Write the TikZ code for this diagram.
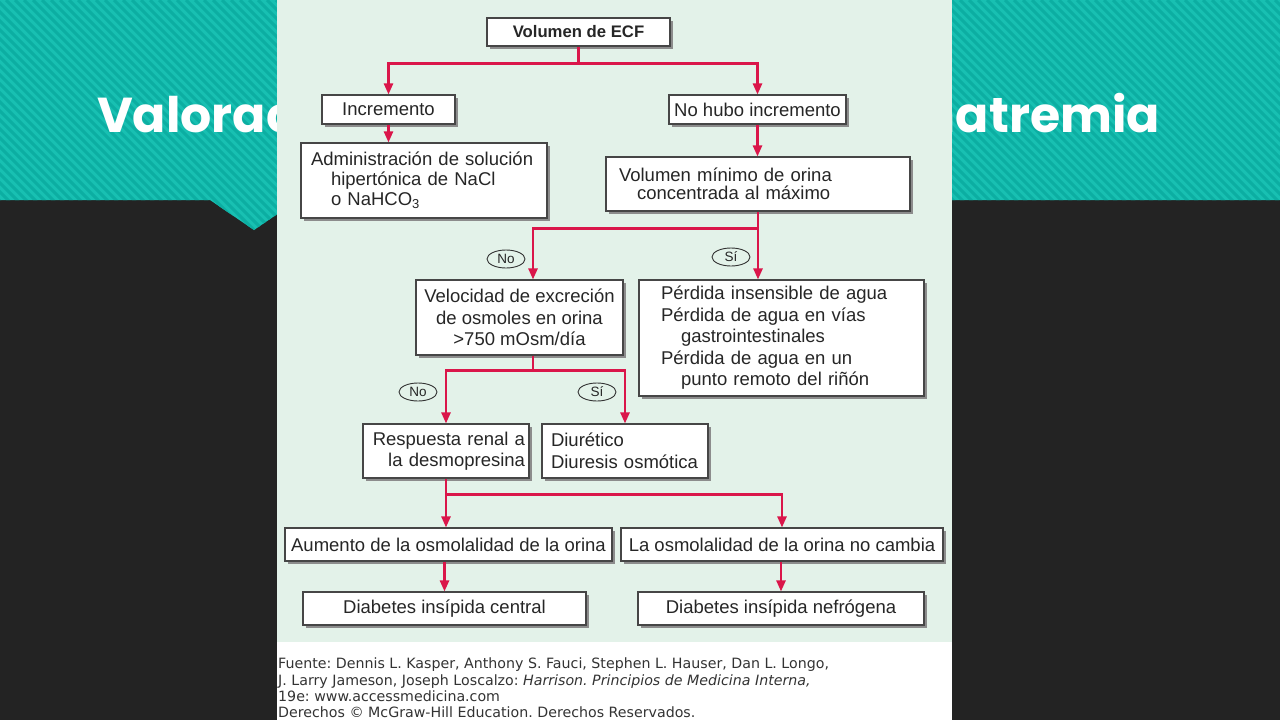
\documentclass[tikz,border=0pt]{standalone}
\usepackage{fontspec}
\setmainfont{Liberation Sans}
\newfontfamily\srcfont{DejaVu Sans}
\newfontfamily\titlefont{Poppins}
\usepackage{tikz}
\usetikzlibrary{shapes,arrows.meta,positioning,shadows}
\definecolor{teal1}{RGB}{24,192,178}
\definecolor{teal2}{RGB}{12,174,162}
\definecolor{slide}{RGB}{35,35,35}
\definecolor{mint}{RGB}{227,242,233}
\definecolor{rojo}{RGB}{218,22,74}
\definecolor{borde}{RGB}{70,70,70}

\begin{document}
\begin{tikzpicture}[x=1pt,y=-1pt,
  caja/.style={draw=borde,line width=1.1pt,fill=white,
    drop shadow={shadow xshift=2.5pt,shadow yshift=-2.5pt,fill=black!45,opacity=1},
    inner sep=0pt,font=\fontsize{18.5}{21.5}\selectfont,text=black!85},
  flecha/.style={draw=rojo,line width=2.4pt,-{Triangle[length=11pt,width=9pt]}},
  etiqueta/.style={ellipse,draw=black!80,line width=0.9pt,minimum width=38pt,
    minimum height=18pt,inner sep=0pt,font=\fontsize{13.5}{13.5}\selectfont,text=black!85},
  titulo/.style={font=\titlefont\bfseries\fontsize{49}{49}\selectfont,text=white,inner sep=0pt}]
\useasboundingbox (0,0) rectangle (1280,720);

% fondo de la diapositiva
\fill[slide] (0,0) rectangle (1280,720);
\fill[teal1] (0,0) -- (1280,0) -- (1280,200) -- (298,200) -- (254,230) -- (210,200) -- (0,200) -- cycle;
\begin{scope}
\clip (0,0) -- (1280,0) -- (1280,200) -- (298,200) -- (254,230) -- (210,200) -- (0,200) -- cycle;
\foreach \i in {-300,-291,...,1300}
  \draw[teal2,line width=3pt] (\i,0) -- ++(240,240);
\end{scope}
\node[titulo,anchor=base west] (tit1) at (97,132) {Valorac};
\node[titulo,anchor=base east] (tit2) at (1160,132) {natremia};

% figura
\fill[white] (277,0) rectangle (952,720);
\fill[mint] (277,0) rectangle (952,642);

\node[caja,minimum width=183pt,minimum height=28pt,font=\bfseries\fontsize{16.7}{20}\selectfont]
  (ecf) at (578.5,32) {Volumen de ECF};
\node[caja,minimum width=133pt,minimum height=29pt] (inc) at (388.5,109.5) {Incremento};
\node[caja,minimum width=177pt,minimum height=29pt] (nohubo) at (757.5,109.5) {No hubo incremento};
\node[caja,minimum width=246pt,minimum height=75pt,text width=226pt,align=left,
  font=\fontsize{18.5}{20}\selectfont] (admin) at (424,180.5)
  {Administración de solución\\\hspace*{20pt}hipertónica de NaCl\\\hspace*{20pt}o NaHCO\textsubscript{3}};
\node[caja,minimum width=304pt,minimum height=54pt,text width=278pt,align=left,
  font=\fontsize{18.5}{18}\selectfont] (vmin) at (758,184)
  {Volumen mínimo de orina\\\hspace*{18pt}concentrada al máximo};
\node[caja,minimum width=207pt,minimum height=75pt,align=center] (vel) at (519.5,317.5)
  {Velocidad de excreción\\de osmoles en orina\\>750 mOsm/día};
\node[caja,minimum width=285pt,minimum height=116pt,text width=241pt,align=left] (perd) at (781.5,338)
  {Pérdida insensible de agua\\Pérdida de agua en vías\\\hspace*{20pt}gastrointestinales\\
   Pérdida de agua en un\\\hspace*{20pt}punto remoto del riñón};
\node[caja,minimum width=166pt,minimum height=54pt,text width=158pt,align=right] (resp) at (446,451)
  {Respuesta renal a\\la desmopresina};
\node[caja,minimum width=166pt,minimum height=54pt,text width=148pt,align=left] (diur) at (625,451)
  {Diurético\\Diuresis osmótica};
\node[caja,minimum width=327pt,minimum height=33pt] (aum) at (448.5,544.5)
  {Aumento de la osmolalidad de la orina};
\node[caja,minimum width=322pt,minimum height=33pt] (osm) at (782,544.5)
  {La osmolalidad de la orina no cambia};
\node[caja,minimum width=283pt,minimum height=33pt] (cen) at (444.5,608.5)
  {Diabetes insípida central};
\node[caja,minimum width=286pt,minimum height=33pt] (nef) at (781,608.5)
  {Diabetes insípida nefrógena};

\node[etiqueta] (no1) at (506,259) {No};
\node[etiqueta] (si1) at (731,257) {Sí};
\node[etiqueta] (no2) at (418,392) {No};
\node[etiqueta] (si2) at (597,392) {Sí};

% conectores
\draw[flecha] (ecf.south) -- ++(0,17) -| (inc.north);
\draw[flecha] (ecf.south) -- ++(0,17) -| (nohubo.north);
\draw[flecha] (inc.south) -- (inc.south |- admin.north);
\draw[flecha] (nohubo.south) -- (nohubo.south |- vmin.north);
\draw[flecha] (vmin.south) -- ++(0,17) -| ([xshift=13.5pt]vel.north);
\draw[flecha] (vmin.south) -- (vmin.south |- perd.north);
\draw[flecha] ([xshift=13.5pt]vel.south) -- ++(0,15) -| (resp.north);
\draw[flecha] ([xshift=13.5pt]vel.south) -- ++(0,15) -| (diur.north);
\draw[flecha] (resp.south) -- (resp.south |- aum.north);
\draw[flecha] (resp.south) -- ++(0,16) -| (osm.north);
\draw[flecha] (cen.north |- aum.south) -- (cen.north);
\draw[flecha] (nef.north |- osm.south) -- (nef.north);

% fuente
\node[anchor=north west,align=left,inner sep=0pt,text=black!80,
  font=\srcfont\fontsize{14.2}{16.2}\selectfont\frenchspacing] (fuente) at (278,658)
  {Fuente: Dennis L. Kasper, Anthony S. Fauci, Stephen L. Hauser, Dan L. Longo,\\
   J. Larry Jameson, Joseph Loscalzo: \textit{Harrison. Principios de Medicina Interna,}\\
   19e: www.accessmedicina.com\\
   Derechos © McGraw-Hill Education. Derechos Reservados.};
\end{tikzpicture}
\end{document}
